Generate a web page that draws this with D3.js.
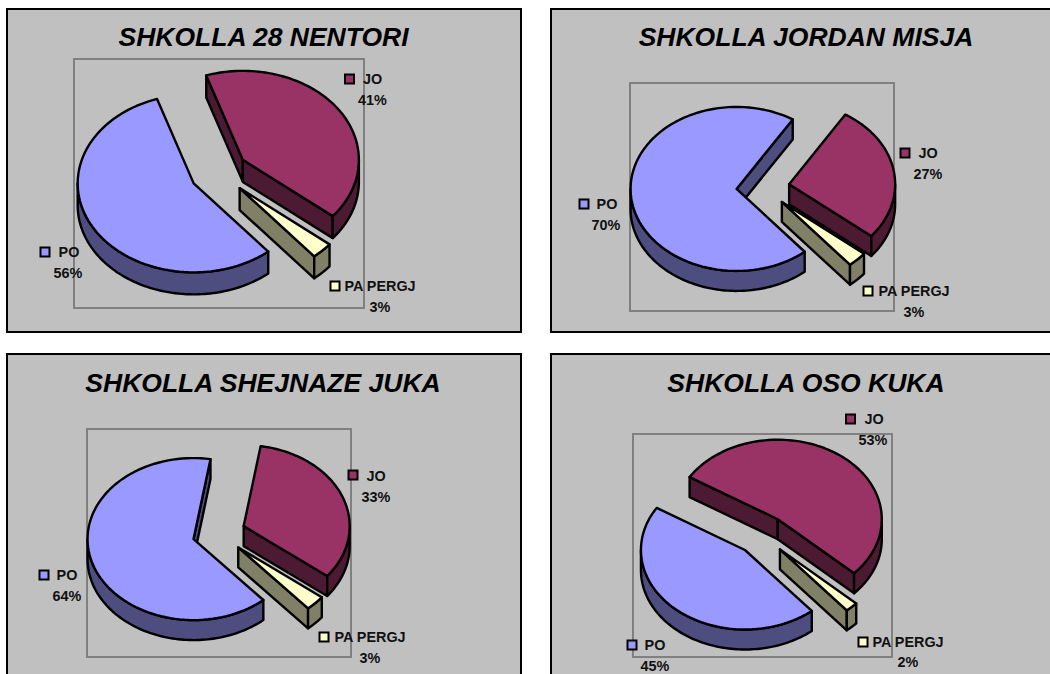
<!DOCTYPE html>
<html><head><meta charset="utf-8">
<script src="https://cdn.jsdelivr.net/npm/d3@7/dist/d3.min.js"></script>
<style>html,body{margin:0;background:#fff;overflow:hidden}svg{display:block}text{font-family:"Liberation Sans",Arial,sans-serif;fill:#111}</style>
</head><body><svg id="c" width="1050" height="674"></svg>
<script>
// Data
const categories = ["JO", "PA PERGJ", "PO"];
const titles = ["SHKOLLA 28 NENTORI", "SHKOLLA JORDAN MISJA", "SHKOLLA SHEJNAZE JUKA", "SHKOLLA OSO KUKA"];
const values28Nentori = [41, 3, 56];
const valuesJordanMisja = [27, 3, 70];
const valuesShejnazeJuka = [33, 3, 64];
const valuesOsoKuka = [53, 2, 45];
const schoolValues = [values28Nentori, valuesJordanMisja, valuesShejnazeJuka, valuesOsoKuka];
const topColors = ["#993366", "#FFFFCC", "#9999FF"];
const wallColors = ["#4D1A33", "#808066", "#4D4D80"];

// Layout
const layouts = [
  {box:[7,9,514,323], title:[263.5,46], plot:[74,59,290,249], c:[219,172.5], rx:116, ry:89, depth:22, start:-18.4,
   labels:[{sw:[349.5,79],t:[372.5,79],p:[372.5,100]},{sw:[335,286],t:[380,286],p:[380,307]},{sw:[45,252],t:[69,252],p:[68,273]}]},
  {box:[551,9,510,323], title:[806,46], plot:[630,83,264,228], c:[763,187.5], rx:106, ry:82, depth:20, start:32,
   labels:[{sw:[905,153],t:[928,153],p:[928,174]},{sw:[868,291],t:[914,291],p:[914,312]},{sw:[584,204],t:[607,204],p:[606,225]}]},
  {box:[7,354,514,330], title:[263,392], plot:[87,429,264,228], c:[219,533.5], rx:106, ry:81, depth:20, start:9.2,
   labels:[{sw:[353,475],t:[376,476],p:[376,497]},{sw:[324,637],t:[370,637],p:[370,658]},{sw:[44,575],t:[67,575],p:[67,596]}]},
  {box:[551,354,510,330], title:[806,392], plot:[633,434,259,223], c:[762,535], rx:104, ry:79.5, depth:20, start:-58,
   labels:[{sw:[850.5,419],t:[874,419],p:[873,440]},{sw:[863,642],t:[908,642],p:[908,662]},{sw:[632,645],t:[655,645],p:[655,666]}]}
];
const explode = 0.25;
const svg = d3.select("#c");
const line = d3.line();

layouts.forEach((L, i) => {
  const g = svg.append("g");
  g.append("rect").attr("x",L.box[0]).attr("y",L.box[1]).attr("width",L.box[2]).attr("height",L.box[3])
    .attr("fill","#C0C0C0").attr("stroke","#000").attr("stroke-width",2);
  g.append("text").attr("x",L.title[0]).attr("y",L.title[1]).attr("text-anchor","middle")
    .attr("font-size",26.5).attr("font-weight","bold").attr("font-style","italic").style("fill","#000").text(titles[i]);
  g.append("rect").attr("x",L.plot[0]).attr("y",L.plot[1]).attr("width",L.plot[2]).attr("height",L.plot[3])
    .attr("fill","none").attr("stroke","#808080").attr("stroke-width",2);

  const st = L.start*Math.PI/180;
  const pie = d3.pie().sort(null).startAngle(st).endAngle(st+2*Math.PI);
  const arcs = pie(schoolValues[i]);
  const total = d3.sum(schoolValues[i]);

  const order = [0,2,1];
  order.forEach(k => {
    const a = arcs[k];
    const mid = (a.startAngle+a.endAngle)/2;
    const ax = L.c[0] + explode*L.rx*Math.sin(mid);
    const ay = L.c[1] - explode*L.ry*Math.cos(mid);
    const P = (t,d=0) => [ax+L.rx*Math.sin(t), ay-L.ry*Math.cos(t)+d];
    const style = (s,fill) => s.attr("fill",fill).attr("stroke","#000").attr("stroke-width",2.4).attr("stroke-linejoin","round");
    const n = 90;
    const angles = (a0,a1) => d3.range(n+1).map(j => a0+(a1-a0)*j/n);

    // radial cut faces
    if (Math.sin(a.startAngle) < 0) {
      const o = P(a.startAngle);
      style(g.append("path").attr("d",line([[ax,ay],o,[o[0],o[1]+L.depth],[ax,ay+L.depth]])+"Z"),wallColors[k]);
    }
    if (Math.sin(a.endAngle) > 0) {
      const o = P(a.endAngle);
      style(g.append("path").attr("d",line([[ax,ay],o,[o[0],o[1]+L.depth],[ax,ay+L.depth]])+"Z"),wallColors[k]);
    }
    // outer wall: front half of the ellipse, per 2π window
    for (let w=-1; w<=1; w++) {
      const a0 = Math.max(a.startAngle, Math.PI/2+w*2*Math.PI);
      const a1 = Math.min(a.endAngle, 3*Math.PI/2+w*2*Math.PI);
      if (a1 > a0) {
        const ang = angles(a0,a1);
        const pts = ang.map(t=>P(t)).concat(ang.slice().reverse().map(t=>P(t,L.depth)));
        style(g.append("path").attr("d",line(pts)+"Z"),wallColors[k]);
      }
    }
    // top face
    const top = [[ax,ay]].concat(angles(a.startAngle,a.endAngle).map(t=>P(t)));
    style(g.append("path").attr("d",line(top)+"Z"),topColors[k]);

    // label
    const lb = L.labels[k];
    g.append("rect").attr("x",lb.sw[0]-4.5).attr("y",lb.sw[1]-4.5).attr("width",9).attr("height",9)
      .attr("fill",topColors[k]).attr("stroke","#000").attr("stroke-width",2);
    g.append("text").attr("x",lb.t[0]).attr("y",lb.t[1]+5).attr("text-anchor","middle")
      .attr("font-size",14.4).attr("font-weight","bold").text(categories[k]);
    g.append("text").attr("x",lb.p[0]).attr("y",lb.p[1]+5).attr("text-anchor","middle")
      .attr("font-size",14.4).attr("font-weight","bold").text(d3.format(".0%")(a.value/total));
  });
});
</script></body></html>
